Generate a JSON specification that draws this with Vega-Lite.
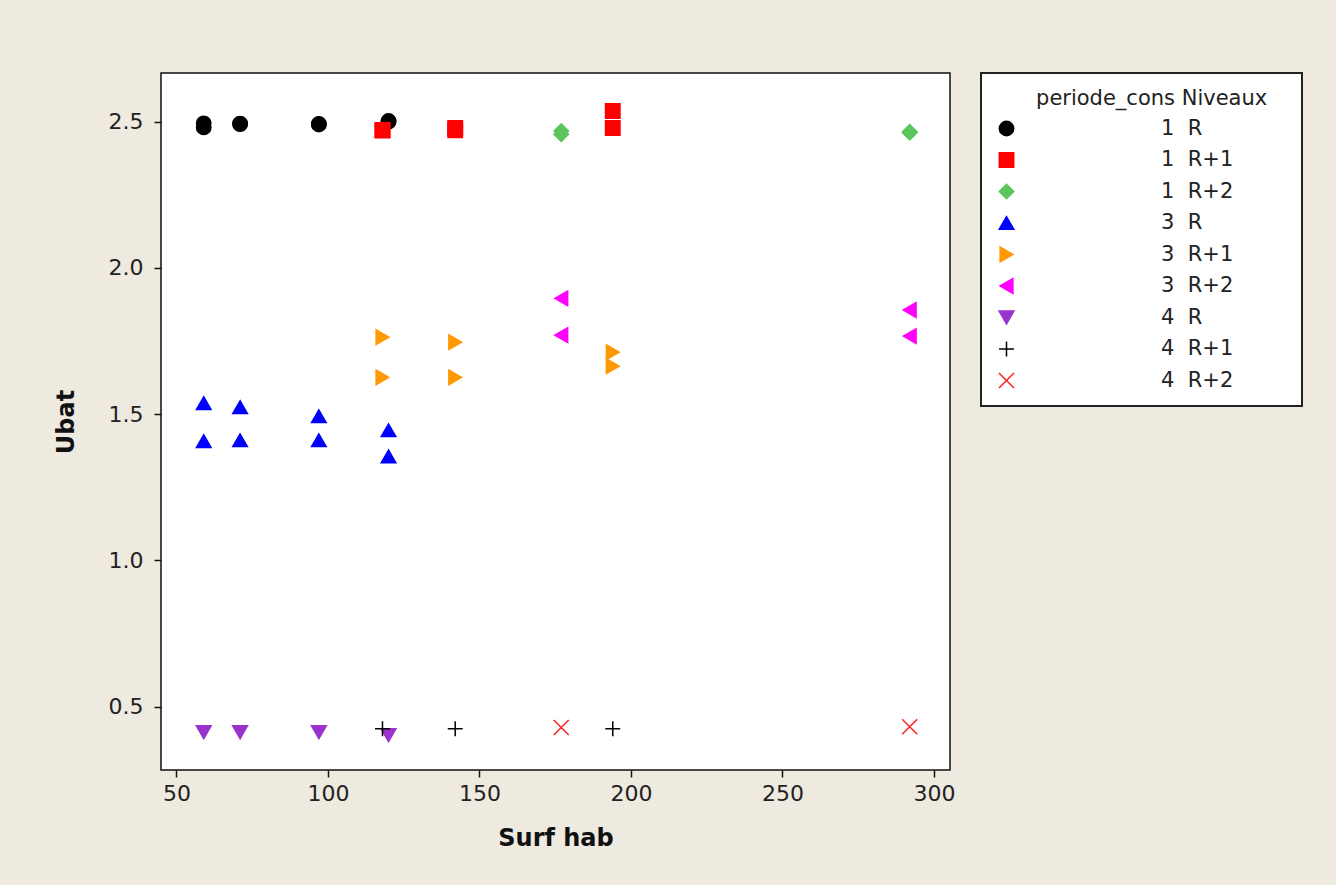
{
  "$schema": "https://vega.github.io/schema/vega-lite/v6.json",
  "autosize": {"type": "none"},
  "padding": {"left": 161, "top": 73, "right": 386, "bottom": 115},
  "width": 789,
  "height": 697,
  "background": "#EEEAE0",
  "config": {
    "view": {"stroke": "#111", "strokeWidth": 1.5, "fill": "white"},
    "legend": {"strokeWidth": 2},
    "axis": {
      "grid": false,
      "domain": false,
      "tickColor": "#111",
      "tickSize": 7,
      "tickWidth": 1.5,
      "labelFont": "DejaVu Sans",
      "labelFontSize": 22,
      "labelColor": "#222",
      "titleFont": "DejaVu Sans",
      "titleFontSize": 24,
      "titleFontWeight": "bold",
      "titleColor": "#111"
    }
  },
  "data": {
    "values": [
      {"periode_cons": 1, "niveau": "R", "groupe": "1 R", "surf": 59, "ubat": 2.494},
      {"periode_cons": 1, "niveau": "R", "groupe": "1 R", "surf": 59, "ubat": 2.480},
      {"periode_cons": 1, "niveau": "R", "groupe": "1 R", "surf": 71, "ubat": 2.493},
      {"periode_cons": 1, "niveau": "R", "groupe": "1 R", "surf": 71, "ubat": 2.491},
      {"periode_cons": 1, "niveau": "R", "groupe": "1 R", "surf": 97, "ubat": 2.492},
      {"periode_cons": 1, "niveau": "R", "groupe": "1 R", "surf": 97, "ubat": 2.490},
      {"periode_cons": 1, "niveau": "R", "groupe": "1 R", "surf": 120, "ubat": 2.502},
      {"periode_cons": 1, "niveau": "R", "groupe": "1 R", "surf": 120, "ubat": 2.500},
      {"periode_cons": 1, "niveau": "R+1", "groupe": "1 R+1", "surf": 118, "ubat": 2.471},
      {"periode_cons": 1, "niveau": "R+1", "groupe": "1 R+1", "surf": 118, "ubat": 2.469},
      {"periode_cons": 1, "niveau": "R+1", "groupe": "1 R+1", "surf": 142, "ubat": 2.478},
      {"periode_cons": 1, "niveau": "R+1", "groupe": "1 R+1", "surf": 142, "ubat": 2.470},
      {"periode_cons": 1, "niveau": "R+1", "groupe": "1 R+1", "surf": 194, "ubat": 2.536},
      {"periode_cons": 1, "niveau": "R+1", "groupe": "1 R+1", "surf": 194, "ubat": 2.478},
      {"periode_cons": 1, "niveau": "R+2", "groupe": "1 R+2", "surf": 177, "ubat": 2.468},
      {"periode_cons": 1, "niveau": "R+2", "groupe": "1 R+2", "surf": 177, "ubat": 2.457},
      {"periode_cons": 1, "niveau": "R+2", "groupe": "1 R+2", "surf": 292, "ubat": 2.465},
      {"periode_cons": 1, "niveau": "R+2", "groupe": "1 R+2", "surf": 292, "ubat": 2.462},
      {"periode_cons": 3, "niveau": "R", "groupe": "3 R", "surf": 59, "ubat": 1.538},
      {"periode_cons": 3, "niveau": "R", "groupe": "3 R", "surf": 59, "ubat": 1.408},
      {"periode_cons": 3, "niveau": "R", "groupe": "3 R", "surf": 71, "ubat": 1.524},
      {"periode_cons": 3, "niveau": "R", "groupe": "3 R", "surf": 71, "ubat": 1.411},
      {"periode_cons": 3, "niveau": "R", "groupe": "3 R", "surf": 97, "ubat": 1.493},
      {"periode_cons": 3, "niveau": "R", "groupe": "3 R", "surf": 97, "ubat": 1.411},
      {"periode_cons": 3, "niveau": "R", "groupe": "3 R", "surf": 120, "ubat": 1.445},
      {"periode_cons": 3, "niveau": "R", "groupe": "3 R", "surf": 120, "ubat": 1.356},
      {"periode_cons": 3, "niveau": "R+1", "groupe": "3 R+1", "surf": 118, "ubat": 1.763},
      {"periode_cons": 3, "niveau": "R+1", "groupe": "3 R+1", "surf": 118, "ubat": 1.626},
      {"periode_cons": 3, "niveau": "R+1", "groupe": "3 R+1", "surf": 142, "ubat": 1.746},
      {"periode_cons": 3, "niveau": "R+1", "groupe": "3 R+1", "surf": 142, "ubat": 1.626},
      {"periode_cons": 3, "niveau": "R+1", "groupe": "3 R+1", "surf": 194, "ubat": 1.712},
      {"periode_cons": 3, "niveau": "R+1", "groupe": "3 R+1", "surf": 194, "ubat": 1.664},
      {"periode_cons": 3, "niveau": "R+2", "groupe": "3 R+2", "surf": 177, "ubat": 1.896},
      {"periode_cons": 3, "niveau": "R+2", "groupe": "3 R+2", "surf": 177, "ubat": 1.770},
      {"periode_cons": 3, "niveau": "R+2", "groupe": "3 R+2", "surf": 292, "ubat": 1.856},
      {"periode_cons": 3, "niveau": "R+2", "groupe": "3 R+2", "surf": 292, "ubat": 1.767},
      {"periode_cons": 4, "niveau": "R", "groupe": "4 R", "surf": 59, "ubat": 0.413},
      {"periode_cons": 4, "niveau": "R", "groupe": "4 R", "surf": 71, "ubat": 0.413},
      {"periode_cons": 4, "niveau": "R", "groupe": "4 R", "surf": 97, "ubat": 0.413},
      {"periode_cons": 4, "niveau": "R", "groupe": "4 R", "surf": 120, "ubat": 0.403},
      {"periode_cons": 4, "niveau": "R+1", "groupe": "4 R+1", "surf": 118, "ubat": 0.425},
      {"periode_cons": 4, "niveau": "R+1", "groupe": "4 R+1", "surf": 142, "ubat": 0.425},
      {"periode_cons": 4, "niveau": "R+1", "groupe": "4 R+1", "surf": 194, "ubat": 0.425},
      {"periode_cons": 4, "niveau": "R+2", "groupe": "4 R+2", "surf": 177, "ubat": 0.429},
      {"periode_cons": 4, "niveau": "R+2", "groupe": "4 R+2", "surf": 292, "ubat": 0.432}
    ]
  },
  "mark": {"type": "point", "filled": true, "strokeWidth": 1.5, "opacity": 1},
  "encoding": {
    "x": {
      "field": "surf", "type": "quantitative", "title": "Surf hab",
      "scale": {"domain": [44.9, 305.3], "nice": false, "zero": false},
      "axis": {"values": [50, 100, 150, 200, 250, 300], "labelPadding": 6, "titlePadding": 22}
    },
    "y": {
      "field": "ubat", "type": "quantitative", "title": "Ubat",
      "scale": {"domain": [0.284, 2.666], "nice": false, "zero": false},
      "axis": {"values": [0.5, 1.0, 1.5, 2.0, 2.5], "format": ".1f", "labelPadding": 11, "titlePadding": 30}
    },
    "color": {
      "field": "groupe", "type": "nominal",
      "scale": {
        "domain": ["1 R", "1 R+1", "1 R+2", "3 R", "3 R+1", "3 R+2", "4 R", "4 R+1", "4 R+2"],
        "range": ["#000000", "#FF0000", "#5CC65C", "#0000FF", "#FF9900", "#FF00FF", "#9933CC", "#000000", "#FF2020"]
      },
      "legend": {
        "title": "\u200b\u00a0\u00a0\u00a0\u00a0\u00a0\u00a0periode_cons Niveaux",
        "titleLimit": 600,
        "orient": "none",
        "legendX": 820,
        "legendY": 0,
        "fillColor": "white",
        "strokeColor": "#222",
        "padding": 15,
        "titleFont": "DejaVu Sans",
        "titleFontSize": 21,
        "titleFontWeight": "normal",
        "titleColor": "#222",
        "titleAnchor": "start",
        "titlePadding": 9,
        "labelFont": "DejaVu Sans",
        "labelFontSize": 21,
        "labelColor": "#222",
        "labelOffset": 144,
        "labelLimit": 600,
        "rowPadding": 9.5,
        "symbolStrokeWidth": 1.5,
        "labelExpr": "replace(datum.label, ' ', '\u00a0\u00a0') + '\u00a0\u00a0\u00a0\u00a0\u00a0\u00a0\u00a0\u00a0\u200b'"
      }
    },
    "stroke": {
      "field": "groupe", "type": "nominal",
      "scale": {
        "domain": ["1 R", "1 R+1", "1 R+2", "3 R", "3 R+1", "3 R+2", "4 R", "4 R+1", "4 R+2"],
        "range": ["#000000", "#FF0000", "#5CC65C", "#0000FF", "#FF9900", "#FF00FF", "#9933CC", "#000000", "#FF2020"]
      }
    },
    "shape": {
      "field": "groupe", "type": "nominal",
      "scale": {
        "domain": ["1 R", "1 R+1", "1 R+2", "3 R", "3 R+1", "3 R+2", "4 R", "4 R+1", "4 R+2"],
        "range": ["circle", "square", "diamond", "triangle-up", "triangle-right", "triangle-left", "triangle-down", "M-1,0L1,0M0,-1L0,1", "M-1,-1L1,1M-1,1L1,-1"]
      }
    },
    "size": {
      "field": "groupe", "type": "nominal",
      "scale": {
        "domain": ["1 R", "1 R+1", "1 R+2", "3 R", "3 R+1", "3 R+2", "4 R", "4 R+1", "4 R+2"],
        "range": [205, 225, 420, 330, 330, 330, 330, 256, 256]
      }
    }
  }
}
